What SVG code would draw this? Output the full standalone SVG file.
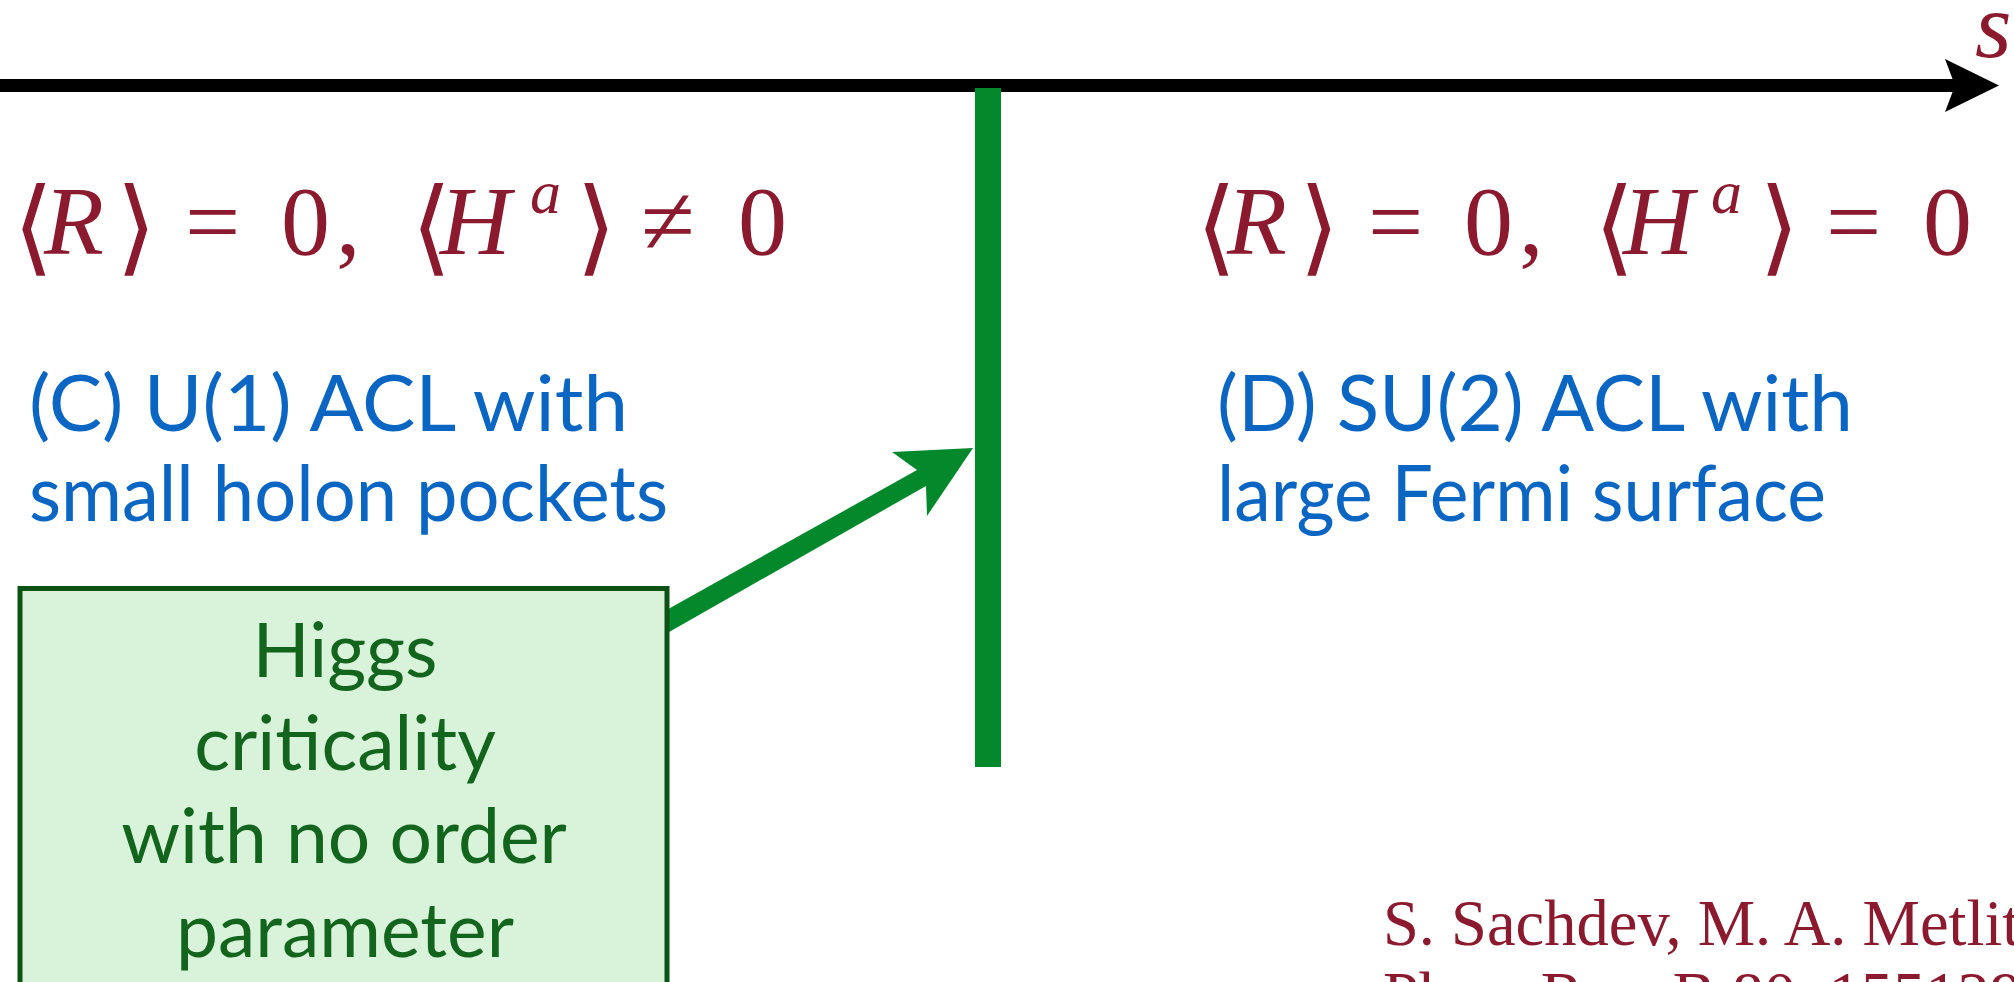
<svg xmlns="http://www.w3.org/2000/svg" width="2014" height="982" viewBox="0 0 2014 982">
<style>
.math{font-family:"Liberation Serif","DejaVu Serif",serif;font-size:98px;fill:#8c1a2e}
.it{font-style:italic}
.br{font-size:104px}
.sup{font-size:62px;font-style:italic}
.blue{font-family:Lato,"Open Sans","Liberation Sans",sans-serif;font-size:78px;fill:#0b66c3}
.green{font-family:Lato,"Open Sans","Liberation Sans",sans-serif;font-size:75px;fill:#13651d;text-anchor:middle}
.cite{font-family:"Liberation Serif","DejaVu Serif",serif;font-size:64.5px;fill:#8c1a2e}
</style>
<rect width="2014" height="982" fill="#ffffff"/>
<g id="connectors">
  <g id="axis">
    <line x1="0" y1="85.5" x2="1958" y2="85.5" stroke="#000" stroke-width="13"/>
    <polygon points="1999,85.5 1945,59 1955,85.5 1945,112" fill="#000"/>
  </g>
  <g id="higgs-arrow">
    <polygon points="645,622 917,470 892,452 973,448 927,516 926,486 655,640" fill="#03882c"/>
  </g>
</g>
<g id="axis-label">
  <text class="math it" x="1975" y="57" style="font-size:94px">s</text>
</g>
<g id="transition-line">
  <rect x="975" y="88" width="26" height="679" fill="#03882c"/>
</g>
<g id="phase-C">
  <text class="math"><tspan class="br" x="13" y="262">⟨</tspan><tspan class="it" x="44" y="254">R</tspan><tspan class="br" x="116" y="262">⟩</tspan><tspan x="185" y="254">=</tspan><tspan x="281" y="254">0</tspan><tspan x="336" y="254">,</tspan><tspan class="br" x="411" y="262">⟨</tspan><tspan class="it" x="440" y="254">H</tspan><tspan class="sup" x="530" y="213">a</tspan><tspan class="br" x="576" y="262">⟩</tspan><tspan x="641" y="254">≠</tspan><tspan x="738" y="254">0</tspan></text>
  <text class="blue" x="29" y="431" textLength="599" lengthAdjust="spacingAndGlyphs">(C) U(1) ACL with</text>
  <text class="blue" x="29" y="521" textLength="639" lengthAdjust="spacingAndGlyphs">small holon pockets</text>
</g>
<g id="phase-D">
  <text class="math"><tspan class="br" x="1196" y="262">⟨</tspan><tspan class="it" x="1227" y="254">R</tspan><tspan class="br" x="1299" y="262">⟩</tspan><tspan x="1368" y="254">=</tspan><tspan x="1464" y="254">0</tspan><tspan x="1519" y="254">,</tspan><tspan class="br" x="1594" y="262">⟨</tspan><tspan class="it" x="1623" y="254">H</tspan><tspan class="sup" x="1711" y="213">a</tspan><tspan class="br" x="1759" y="262">⟩</tspan><tspan x="1826" y="254">=</tspan><tspan x="1923" y="254">0</tspan></text>
  <text class="blue" x="1217" y="431" textLength="636" lengthAdjust="spacingAndGlyphs">(D) SU(2) ACL with</text>
  <text class="blue" x="1217" y="521" textLength="609" lengthAdjust="spacingAndGlyphs">large Fermi surface</text>
</g>
<g id="higgs-box">
  <rect x="20" y="588.5" width="647" height="500" fill="#d9f2da" stroke="#0b5214" stroke-width="5"/>
  <text class="green" x="345" y="677">Higgs</text>
  <text class="green" x="345" y="770">criticality</text>
  <text class="green" x="344" y="863">with no order</text>
  <text class="green" x="345" y="957">parameter</text>
</g>
<g id="citation">
  <text class="cite" x="1383" y="945">S. Sachdev, M. A. Metlitski,</text>
  <text class="cite" x="1383" y="1017">Phys. Rev. B 80, 155129</text>
</g>
</svg>
